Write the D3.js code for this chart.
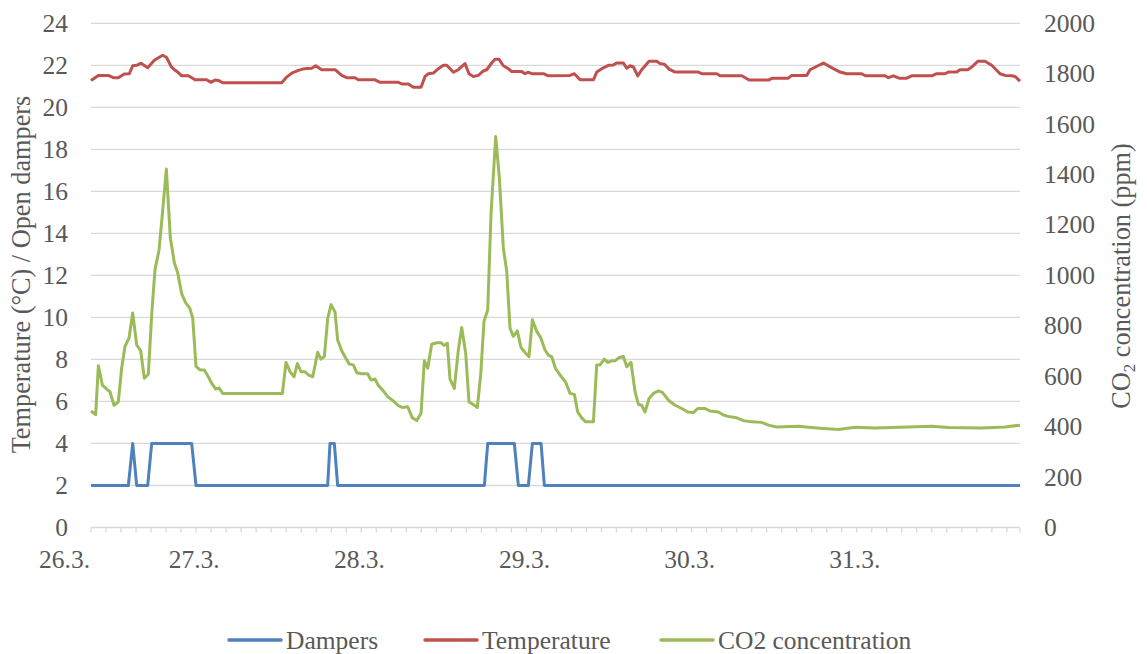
<!DOCTYPE html>
<html>
<meta charset="utf-8">
<script src="https://d3js.org/d3.v7.min.js"></script>
<style>
  body { margin: 0; background: #fff; }
</style>
<body>
<div id="my_dataviz"></div>
<script>

// hours counted from 26.3. 00:00
var dampersHours = [9, 14.43, 15.06, 15.64, 17.24, 17.82, 23.63, 24.26, 43.39, 43.73, 44.36, 44.84,
  66.16, 66.65, 70.52, 71.1, 72.56, 73.14, 74.4, 74.88, 144];
var dampersValues = [2, 2, 4, 2, 2, 4, 4, 2, 2, 4, 4, 2, 2, 4, 4, 2, 2, 4, 4, 2, 2];

var tempHours = [9, 10.07, 11.52, 12.25, 12.97, 13.84, 14.57, 15.06, 15.64, 16.27, 17.24, 18.2, 19.42, 20.0,
  20.63, 21.11, 21.6, 22.18, 23.15, 24.12, 25.81, 26.44, 27.02, 27.51, 28.14, 36.71, 37.44, 38.17, 39.14,
  40.01, 41.07, 41.66, 42.52, 44.46, 45.43, 46.15, 47.36, 47.85, 50.27, 51.0, 53.66, 54.24, 55.12, 55.84,
  56.96, 57.54, 58.02, 58.75, 59.48, 60.2, 60.69, 61.66, 62.38, 63.35, 63.93, 64.56, 65.29, 66.02, 66.5,
  67.23, 67.71, 68.29, 68.92, 69.65, 70.13, 71.59, 72.07, 72.56, 73.04, 74.74, 75.46, 78.61, 79.24, 80.07,
  82.01, 82.49, 83.22, 84.19, 84.91, 85.4, 86.37, 86.85, 87.33, 87.82, 88.45, 89.03, 90.1, 91.21, 91.7,
  92.33, 93.0, 93.88, 97.27, 97.75, 99.93, 100.42, 103.57, 104.63, 107.44, 108.02, 110.34, 110.82, 113.0,
  113.49, 115.43, 116.88, 117.85, 118.82, 121.0, 121.58, 124.39, 124.87, 125.6, 126.42, 127.54, 128.26,
  131.17, 131.9, 133.11, 133.59, 134.8, 135.29, 136.4, 136.99, 137.86, 138.92, 139.89, 141.1, 141.83,
  142.8, 143.28, 144];
var tempValues = [21.28, 21.52, 21.52, 21.41, 21.41, 21.59, 21.6, 21.98, 22.0, 22.1, 21.89, 22.24, 22.48, 22.37,
  21.95, 21.79, 21.68, 21.5, 21.5, 21.31, 21.31, 21.19, 21.3, 21.28, 21.17, 21.17, 21.44, 21.63, 21.76,
  21.84, 21.86, 21.98, 21.79, 21.79, 21.52, 21.41, 21.41, 21.31, 21.31, 21.19, 21.19, 21.11, 21.11, 20.96,
  20.96, 21.47, 21.6, 21.63, 21.84, 22.0, 22.0, 21.67, 21.79, 22.08, 21.6, 21.47, 21.52, 21.73, 21.79,
  22.11, 22.29, 22.29, 21.98, 21.84, 21.7, 21.7, 21.6, 21.67, 21.6, 21.6, 21.5, 21.52, 21.6, 21.31,
  21.31, 21.68, 21.84, 22.0, 22.02, 22.11, 22.11, 21.86, 21.98, 21.92, 21.5, 21.79, 22.19, 22.19, 22.08,
  22.05, 21.82, 21.68, 21.68, 21.6, 21.6, 21.5, 21.5, 21.3, 21.3, 21.39, 21.39, 21.52, 21.52,
  21.79, 22.11, 21.84, 21.68, 21.6, 21.6, 21.5, 21.5, 21.41, 21.5, 21.39, 21.39, 21.5,
  21.5, 21.6, 21.6, 21.68, 21.68, 21.79, 21.79, 21.92, 22.19, 22.19, 22.0, 21.6, 21.52,
  21.5, 21.47, 21.25];

var co2Hours = [9, 9.68, 10.07, 10.65, 11.28, 11.76, 12.34, 12.97, 13.46, 13.94, 14.52, 15.06, 15.64, 16.22,
  16.75, 17.33, 17.82, 18.3, 18.88, 19.37, 19.95, 20.53, 21.11, 21.6, 22.18, 22.76, 23.34, 23.78, 24.26,
  24.84, 25.47, 26.05, 26.54, 27.12, 27.6, 28.14, 36.81, 37.34, 37.92, 38.51, 38.99, 39.52, 40.1, 40.59,
  41.22, 41.94, 42.42, 42.91, 43.39, 43.88, 44.46, 44.84, 45.43, 46.01, 46.54, 47.12, 47.61, 48.33, 49.2,
  49.69, 50.27, 50.76, 51.48, 52.11, 52.94, 53.66, 54.24, 55.02, 55.7, 56.33, 56.96, 57.44, 57.93, 58.51,
  59.23, 59.86, 60.3, 60.78, 61.17, 61.8, 62.38, 62.87, 63.45, 63.93, 64.56, 65.14, 65.63, 66.11, 66.65,
  67.13, 67.81, 68.34, 68.92, 69.41, 69.89, 70.38, 70.96, 71.49, 72.17, 72.65, 73.14, 73.77, 74.35, 74.98,
  75.46, 75.94, 76.53, 77.16, 77.98, 78.61, 79.24, 79.73, 80.31, 80.89, 82.01, 82.49, 82.97, 83.6, 84.09,
  84.67, 85.15, 85.74, 86.37, 86.85, 87.48, 88.06, 88.55, 89.03, 89.51, 90.1, 90.73, 91.45, 92.03, 92.91,
  93.88, 94.84, 95.72, 96.54, 97.17, 98.24, 98.96, 100.17, 100.9, 101.87, 102.84, 103.81, 105.02, 106.47,
  107.44, 108.65, 111.79, 113.24, 115.43, 117.61, 120.03, 122.93, 127.78, 131.17, 133.59, 138.44, 141.83, 144];
var co2Values = [462, 448, 642, 565, 549, 538, 485, 498, 634, 718, 751, 851, 724, 701,
  592, 608, 844, 1023, 1099, 1243, 1422, 1149, 1050, 1010, 927, 891, 871, 831, 639,
  625, 625, 598, 572, 549, 554, 532, 532, 655, 618, 598, 650, 618, 618, 605,
  598, 695, 668, 678, 828, 884, 855, 744, 701, 672, 648, 645, 614, 610, 610,
  585, 589, 563, 542, 519, 502, 483, 476, 479, 435, 424, 453, 661, 632, 727,
  733, 733, 722, 731, 589, 552, 704, 793, 691, 498, 488, 476, 605, 818, 863,
  1243, 1551, 1388, 1109, 1017, 791, 758, 780, 714, 691, 678, 824, 778, 753, 704,
  684, 678, 629, 605, 576, 532, 528, 458, 435, 419, 419, 645, 645, 668, 655,
  661, 661, 674, 678, 638, 655, 538, 488, 485, 458, 512, 532, 542, 536, 505,
  485, 472, 458, 456, 472, 472, 462, 458, 446, 439, 435, 424, 419, 417,
  406, 399, 402, 398, 393, 389, 398, 395, 399, 402, 397, 395, 399, 406];

var dayLabels = ["26.3.", "27.3.", "28.3.", "29.3.", "30.3.", "31.3."];
var dayHours = [9, 24, 48, 72, 96, 120];
var leftTicks = [0, 2, 4, 6, 8, 10, 12, 14, 16, 18, 20, 22, 24];
var rightTicks = [0, 200, 400, 600, 800, 1000, 1200, 1400, 1600, 1800, 2000];

var width = 1147, height = 654;
var margin = {top: 23.3, right: 127, bottom: 126.5, left: 91};
var serif = "'Liberation Serif', 'Times New Roman', Times, serif";

var svg = d3.select("#my_dataviz")
  .append("svg")
    .attr("width", width)
    .attr("height", height)
    .attr("font-family", serif);

var x = d3.scaleLinear().domain([9, 144]).range([margin.left, width - margin.right]);
var yL = d3.scaleLinear().domain([0, 24]).range([height - margin.bottom, margin.top]);
var yR = d3.scaleLinear().domain([0, 2000]).range([height - margin.bottom, margin.top]);

// gridlines
svg.append("g")
  .selectAll("line")
  .data(leftTicks.slice(1))
  .enter()
  .append("line")
    .attr("x1", x(9)).attr("x2", x(144))
    .attr("y1", function(d) { return yL(d); })
    .attr("y2", function(d) { return yL(d); })
    .attr("stroke", "#d9d9d9")
    .attr("stroke-width", 1.3);

// bottom axis with small ticks
var tickHours = d3.range(9, 143.5, 24 / 11).concat([144]);
svg.append("line")
  .attr("x1", x(9)).attr("x2", x(144))
  .attr("y1", yL(0)).attr("y2", yL(0))
  .attr("stroke", "#d9d9d9").attr("stroke-width", 1.3);
svg.append("g")
  .selectAll("line")
  .data(tickHours)
  .enter()
  .append("line")
    .attr("x1", function(d) { return x(d); })
    .attr("x2", function(d) { return x(d); })
    .attr("y1", yL(0)).attr("y2", yL(0) + 5)
    .attr("stroke", "#d9d9d9").attr("stroke-width", 1.3);

function label(sel, size) {
  return sel.attr("font-family", serif).attr("fill", "#595959").style("font-size", size + "px");
}

label(svg.append("g")
  .selectAll("text")
  .data(dayLabels)
  .enter()
  .append("text"), 25.5)
    .attr("x", function(d, i) { return i == 0 ? x(dayHours[i]) - 1 : x(dayHours[i]); })
    .attr("y", 568)
    .attr("text-anchor", function(d, i) { return i == 0 ? "end" : "middle"; })
    .text(function(d) { return d; });

// left and right tick labels
label(svg.append("g")
  .selectAll("text")
  .data(leftTicks)
  .enter()
  .append("text"), 25.5)
    .attr("x", 68)
    .attr("y", function(d) { return yL(d) + 8.5; })
    .attr("text-anchor", "end")
    .text(function(d) { return d; });

label(svg.append("g")
  .selectAll("text")
  .data(rightTicks)
  .enter()
  .append("text"), 25.5)
    .attr("x", 1044)
    .attr("y", function(d) { return yR(d) + 8.5; })
    .attr("text-anchor", "start")
    .text(function(d) { return d; });

// axis titles
label(svg.append("text"), 26.3)
  .attr("transform", "translate(29.5,274.5) rotate(-90)")
  .attr("text-anchor", "middle")
  .text("Temperature (°C) / Open dampers");

var rt = label(svg.append("text"), 26.3)
  .attr("transform", "translate(1129.5,276) rotate(-90)")
  .attr("text-anchor", "middle");
rt.append("tspan").text("CO");
rt.append("tspan").attr("dy", 5).style("font-size", "17px").text("2");
rt.append("tspan").attr("dy", -5).text(" concentration (ppm)");

// lines
function series(hours, values) {
  return hours.map(function(h, i) { return [h, values[i]]; });
}
var lineL = d3.line().x(function(d) { return x(d[0]); }).y(function(d) { return yL(d[1]); });
var lineR = d3.line().x(function(d) { return x(d[0]); }).y(function(d) { return yR(d[1]); });

svg.append("path")
  .attr("d", lineL(series(dampersHours, dampersValues)))
  .attr("fill", "none").attr("stroke", "#4f81bd").attr("stroke-width", 3)
  .attr("stroke-linejoin", "round");
svg.append("path")
  .attr("d", lineL(series(tempHours, tempValues)))
  .attr("fill", "none").attr("stroke", "#c0504d").attr("stroke-width", 3)
  .attr("stroke-linejoin", "round");
svg.append("path")
  .attr("d", lineR(series(co2Hours, co2Values)))
  .attr("fill", "none").attr("stroke", "#9bbb59").attr("stroke-width", 3)
  .attr("stroke-linejoin", "round");

// legend
var legend = [
  {name: "Dampers", color: "#4f81bd", x: 228},
  {name: "Temperature", color: "#c0504d", x: 424},
  {name: "CO2 concentration", color: "#9bbb59", x: 660}
];
var lg = svg.append("g")
  .selectAll("g")
  .data(legend)
  .enter()
  .append("g")
    .attr("transform", function(d) { return "translate(" + d.x + ",640)"; });
lg.append("line")
  .attr("x1", 1).attr("x2", 53)
  .attr("stroke", function(d) { return d.color; })
  .attr("stroke-width", 3.5).attr("stroke-linecap", "round");
label(lg.append("text"), 25.5)
  .attr("x", 58).attr("y", 8.5)
  .text(function(d) { return d.name; });

</script>
</body>
</html>
